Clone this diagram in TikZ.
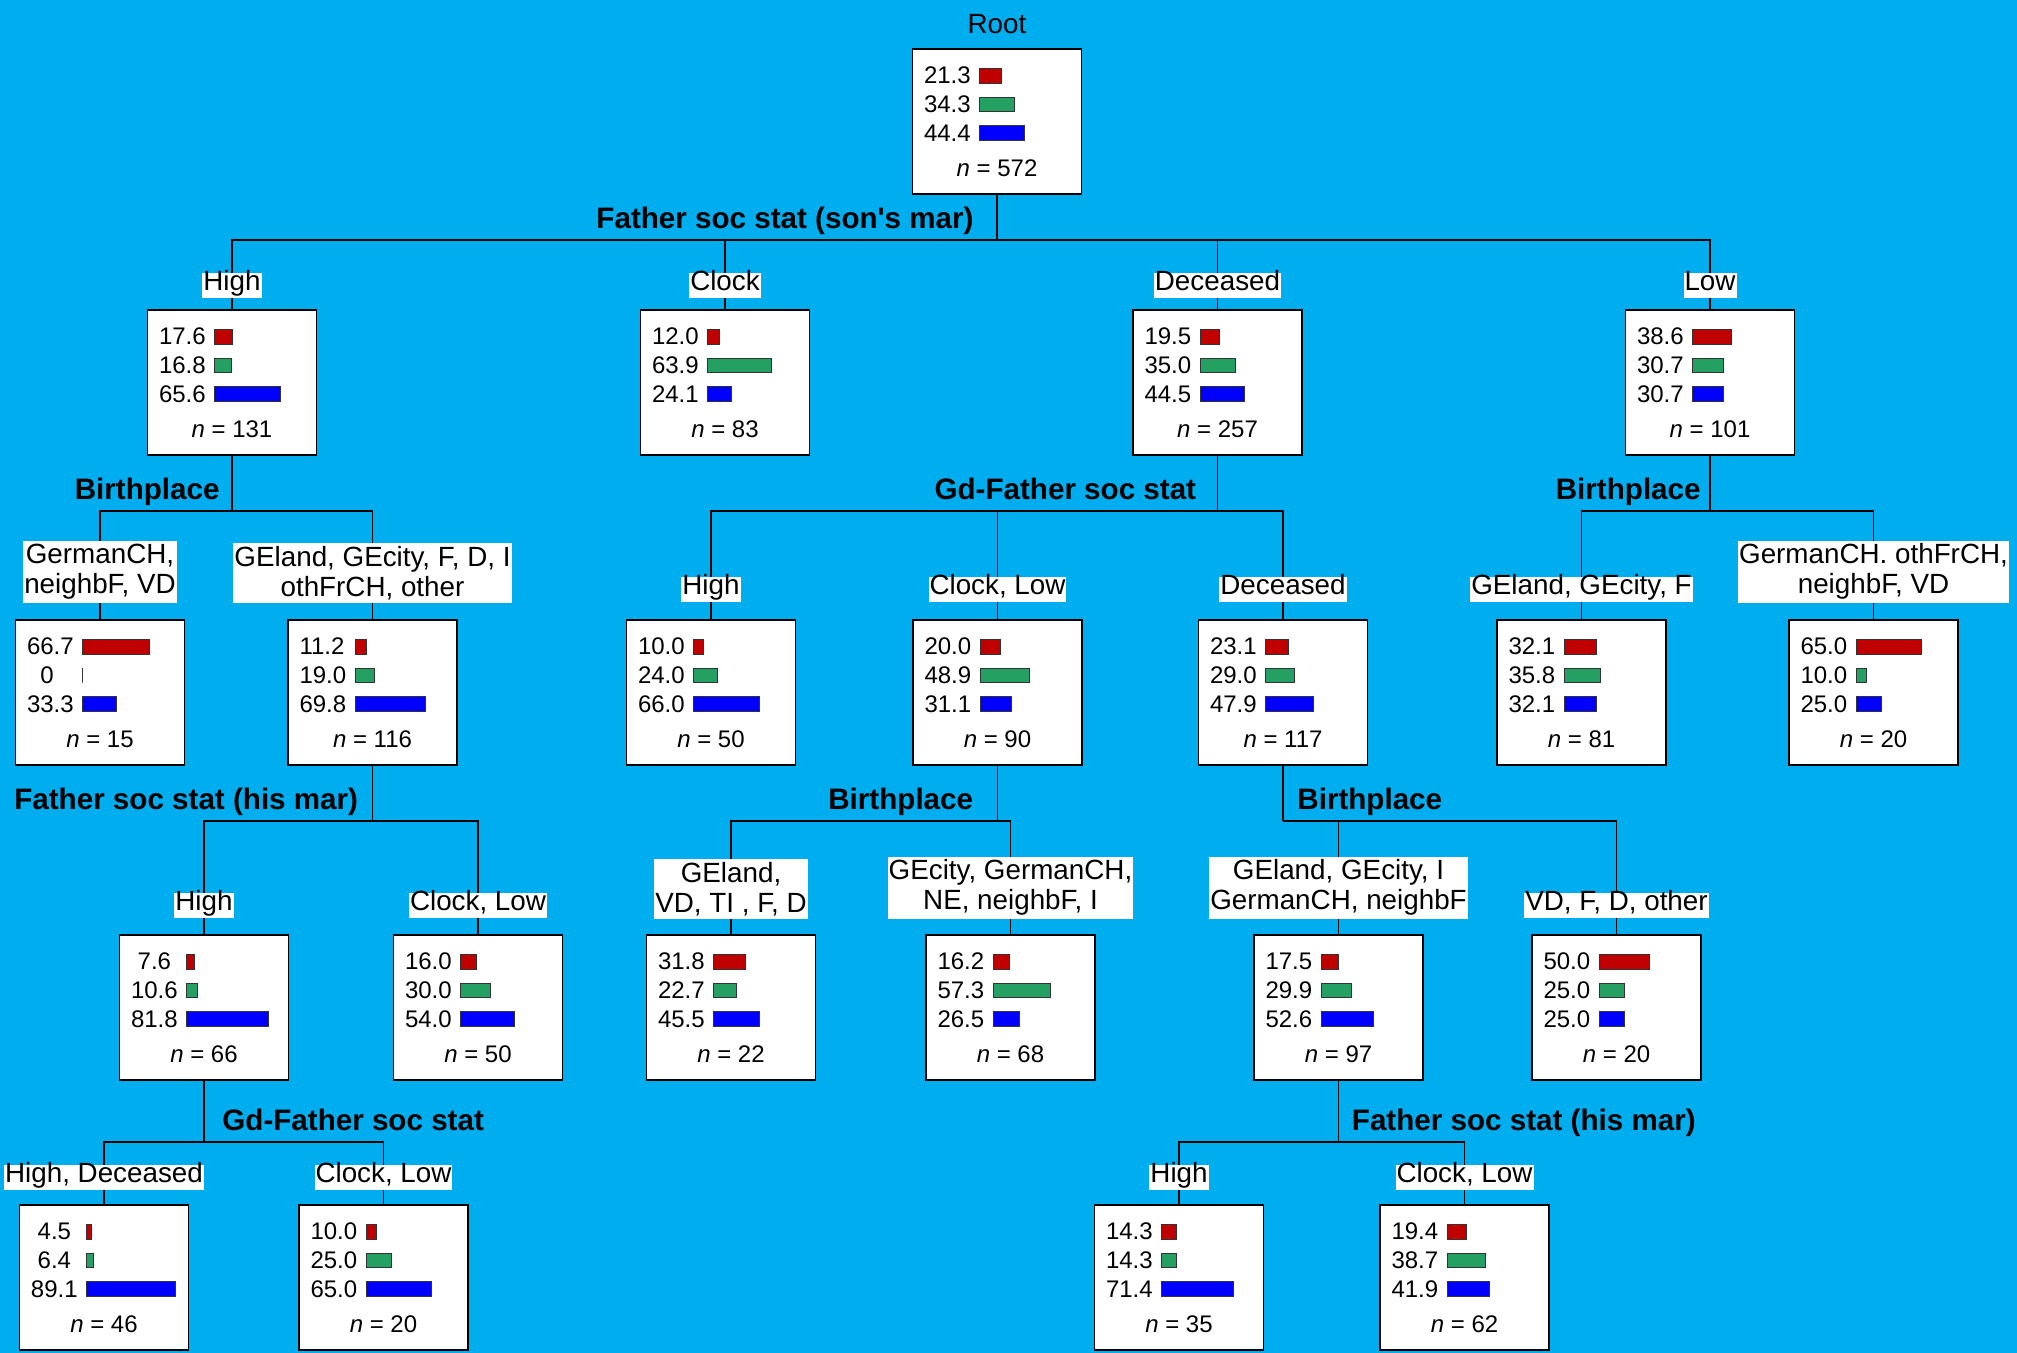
\documentclass[tikz,border=0pt]{standalone}
\usepackage{fontspec}
\setmainfont{Liberation Sans}
\usepackage{tikz}

\definecolor{skyback}{RGB}{0,174,239}
\definecolor{barred}{RGB}{192,0,0}
\definecolor{bargreen}{RGB}{36,160,98}
\definecolor{barblue}{RGB}{0,0,255}

\tikzset{
  leafbox/.style={draw=black, line width=0.9pt, fill=white, anchor=north,
    minimum width=84.5pt, minimum height=72.5pt, inner sep=0pt},
  val/.style={anchor=west, inner sep=0pt, font=\fontsize{12}{14}\selectfont},
  bar/.style={draw=black!80, line width=0.4pt},
  edge/.style={draw=black, line width=0.7pt},
  elab/.style={fill=white, inner xsep=0.5pt, inner ysep=1.5pt, anchor=south,
    text height=0.73em, text depth=0.21em, font=\fontsize{13.9}{15}\selectfont},
  elabtwo/.style={fill=white, inner xsep=0.5pt, inner ysep=1.5pt, anchor=south,
    align=center, font=\fontsize{13.9}{15}\selectfont},
  split/.style={inner sep=0pt, font=\bfseries\fontsize{14.8}{17}\selectfont}
}

\newcommand{\pct}[1]{\ifdim#1pt<10pt\ \fi\ifdim#1pt=0pt\ \fi#1}

\newcommand{\leaf}[7]{%
  \node[leafbox] (#1) at (#2,#3) {};
  \node[val] (#1r) at ([shift={(12,27.5)}]#1.north west) {\pct{#4}};
  \node[val] (#1g) at ([shift={(12,56)}]#1.north west) {\pct{#5}};
  \node[val] (#1b) at ([shift={(12,85)}]#1.north west) {\pct{#6}};
  \draw[bar, fill=barred] ([shift={(68,20.5)}]#1.north west) rectangle ++(#4,14.5);
  \draw[bar, fill=bargreen] ([shift={(68,49)}]#1.north west) rectangle ++(#5,14.5);
  \draw[bar, fill=barblue] ([shift={(68,77.5)}]#1.north west) rectangle ++(#6,14.5);
  \node[val, anchor=center] (#1n) at ([shift={(0,120)}]#1.north) {\textit{n} = #7};
}

\begin{document}
\begin{tikzpicture}[x=0.5pt, y=-0.5pt]
  \useasboundingbox (0,0) rectangle (2017,1353);
  \fill[skyback] (0,0) rectangle (2017,1353);

  \node[font=\fontsize{13.9}{15}\selectfont] (rootlab) at (997,24) {Root};
  \leaf{root}{997}{48}{21.3}{34.3}{44.4}{572}

  \leaf{hi}{232}{309}{17.6}{16.8}{65.6}{131}
  \leaf{cl}{725}{309}{12.0}{63.9}{24.1}{83}
  \leaf{de}{1217.5}{309}{19.5}{35.0}{44.5}{257}
  \leaf{lo}{1710}{309}{38.6}{30.7}{30.7}{101}

  \leaf{hig}{100}{619}{66.7}{0}{33.3}{15}
  \leaf{hio}{372.5}{619}{11.2}{19.0}{69.8}{116}
  \leaf{deh}{711}{619}{10.0}{24.0}{66.0}{50}
  \leaf{dec}{997.5}{619}{20.0}{48.9}{31.1}{90}
  \leaf{ded}{1283}{619}{23.1}{29.0}{47.9}{117}
  \leaf{loa}{1581.5}{619}{32.1}{35.8}{32.1}{81}
  \leaf{lob}{1873.5}{619}{65.0}{10.0}{25.0}{20}

  \leaf{hioh}{204}{934}{7.6}{10.6}{81.8}{66}
  \leaf{hioc}{478}{934}{16.0}{30.0}{54.0}{50}
  \leaf{deca}{731}{934}{31.8}{22.7}{45.5}{22}
  \leaf{decb}{1010.5}{934}{16.2}{57.3}{26.5}{68}
  \leaf{deda}{1338.5}{934}{17.5}{29.9}{52.6}{97}
  \leaf{dedb}{1616.5}{934}{50.0}{25.0}{25.0}{20}

  \leaf{hiohh}{104}{1204}{4.5}{6.4}{89.1}{46}
  \leaf{hiohc}{383.5}{1204}{10.0}{25.0}{65.0}{20}
  \leaf{dedah}{1179}{1204}{14.3}{14.3}{71.4}{35}
  \leaf{dedac}{1464.5}{1204}{19.4}{38.7}{41.9}{62}

  \coordinate (s0) at (root.south |- 0,240);
  \coordinate (s1) at (hi.south |- 0,511);
  \coordinate (s2) at (de.south |- 0,511);
  \coordinate (s3) at (lo.south |- 0,511);
  \coordinate (s4) at (hio.south |- 0,821);
  \coordinate (s5) at (dec.south |- 0,821);
  \coordinate (s6) at (ded.south |- 0,821);
  \coordinate (s7) at (hioh.south |- 0,1142);
  \coordinate (s8) at (deda.south |- 0,1142);

  \draw[edge] (root.south) -- (s0);
  \foreach \c in {hi,cl,de,lo} \draw[edge] (s0) -| (\c.north);
  \draw[edge] (hi.south) -- (s1);
  \foreach \c in {hig,hio} \draw[edge] (s1) -| (\c.north);
  \draw[edge] (de.south) -- (s2);
  \foreach \c in {deh,dec,ded} \draw[edge] (s2) -| (\c.north);
  \draw[edge] (lo.south) -- (s3);
  \foreach \c in {loa,lob} \draw[edge] (s3) -| (\c.north);
  \draw[edge] (hio.south) -- (s4);
  \foreach \c in {hioh,hioc} \draw[edge] (s4) -| (\c.north);
  \draw[edge] (dec.south) -- (s5);
  \foreach \c in {deca,decb} \draw[edge] (s5) -| (\c.north);
  \draw[edge] (ded.south) -- (s6);
  \foreach \c in {deda,dedb} \draw[edge] (s6) -| (\c.north);
  \draw[edge] (hioh.south) -- (s7);
  \foreach \c in {hiohh,hiohc} \draw[edge] (s7) -| (\c.north);
  \draw[edge] (deda.south) -- (s8);
  \foreach \c in {dedah,dedac} \draw[edge] (s8) -| (\c.north);

  \node[split, anchor=base east] (t0) at ([shift={(-23,-11)}]s0) {Father soc stat (son\textquotesingle s mar)};
  \node[split, anchor=base east] (t1) at ([shift={(-12,-12)}]s1) {Birthplace};
  \node[split, anchor=base east] (t2) at ([shift={(-21,-12)}]s2) {Gd-Father soc stat};
  \node[split, anchor=base east] (t3) at ([shift={(-9,-12)}]s3) {Birthplace};
  \node[split, anchor=base east] (t4) at ([shift={(-14,-12)}]s4) {Father soc stat (his mar)};
  \node[split, anchor=base east] (t5) at ([shift={(-24,-12)}]s5) {Birthplace};
  \node[split, anchor=base west] (t6) at ([shift={(14,-12)}]s6) {Birthplace};
  \node[split, anchor=base west] (t7) at ([shift={(18,-12)}]s7) {Gd-Father soc stat};
  \node[split, anchor=base west] (t8) at ([shift={(13,-12)}]s8) {Father soc stat (his mar)};

  \node[elab] (lhi) at ([shift={(0,-11)}]hi.north) {High};
  \node[elab] (lcl) at ([shift={(0,-11)}]cl.north) {Clock};
  \node[elab] (lde) at ([shift={(0,-11)}]de.north) {Deceased};
  \node[elab] (llo) at ([shift={(0,-11)}]lo.north) {Low};

  \node[elabtwo] (lhig) at ([shift={(0,-16)}]hig.north) {GermanCH,\\neighbF, VD};
  \node[elabtwo] (lhio) at ([shift={(0,-16)}]hio.north) {GEland, GEcity, F, D, I\\othFrCH, other};
  \node[elab] (ldeh) at ([shift={(0,-17)}]deh.north) {High};
  \node[elab] (ldec) at ([shift={(0,-17)}]dec.north) {Clock, Low};
  \node[elab] (lded) at ([shift={(0,-17)}]ded.north) {Deceased};
  \node[elab] (lloa) at ([shift={(0,-17)}]loa.north) {GEland, GEcity, F};
  \node[elabtwo] (llob) at ([shift={(0,-16)}]lob.north) {GermanCH. othFrCH,\\neighbF, VD};

  \node[elab] (lhioh) at ([shift={(0,-16)}]hioh.north) {High};
  \node[elab] (lhioc) at ([shift={(0,-16)}]hioc.north) {Clock, Low};
  \node[elabtwo] (ldeca) at ([shift={(0,-15)}]deca.north) {GEland,\\VD, TI , F, D};
  \node[elabtwo] (ldecb) at ([shift={(0,-15)}]decb.north) {GEcity, GermanCH,\\NE, neighbF, I};
  \node[elabtwo] (ldeda) at ([shift={(0,-15)}]deda.north) {GEland, GEcity, I\\GermanCH, neighbF};
  \node[elab] (ldedb) at ([shift={(0,-16)}]dedb.north) {VD, F, D, other};

  \node[elab] (lhiohh) at ([shift={(0,-14)}]hiohh.north) {High, Deceased};
  \node[elab] (lhiohc) at ([shift={(0,-14)}]hiohc.north) {Clock, Low};
  \node[elab] (ldedah) at ([shift={(0,-14)}]dedah.north) {High};
  \node[elab] (ldedac) at ([shift={(0,-14)}]dedac.north) {Clock, Low};
\end{tikzpicture}
\end{document}
